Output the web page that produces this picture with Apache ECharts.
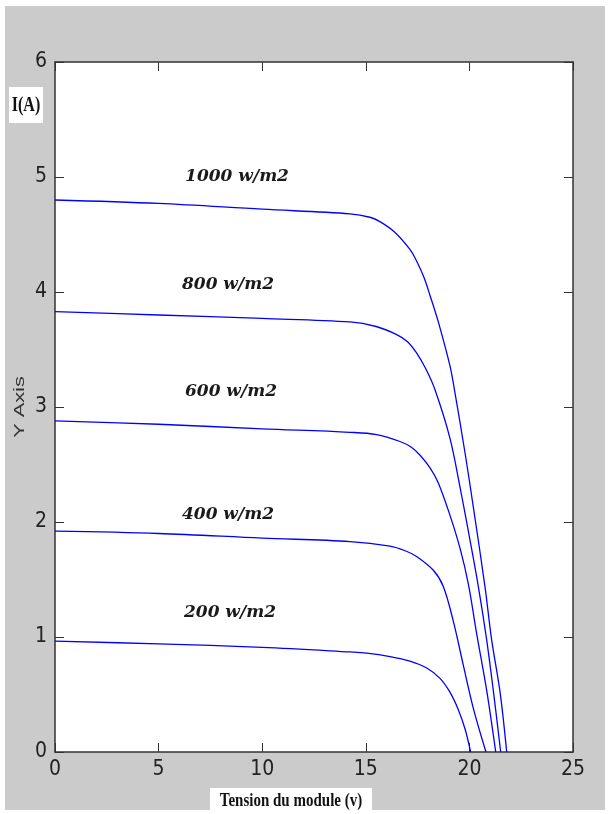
<!DOCTYPE html>
<html>
<head>
<meta charset="utf-8">
<script src="https://cdn.jsdelivr.net/npm/echarts@6/dist/echarts.min.js"></script>
<style>
  body { margin: 0; background: #fff; }
  #wrap { position: relative; width: 610px; height: 814px; background: #fff; }
  #paper { position: absolute; left: 5px; top: 6px; width: 600px; height: 804px; background: #cbcbcb; }
  #main { position: absolute; left: 0; top: 0; width: 610px; height: 814px; }
</style>
</head>
<body>
<div id="wrap"><div id="paper"></div><div id="main"></div></div>
<script>
// tension du module (V) et courant (A) pour chaque eclairement
var v1000 = [0, 5, 10, 14.24, 15.2, 15.7, 16.4, 17.13, 17.45, 17.8, 18.1, 18.5, 19.06, 19.25, 19.79, 20.19, 20.75, 21.07, 21.48, 21.8];
var i1000 = [4.80, 4.77, 4.72, 4.68, 4.65, 4.61, 4.52, 4.37, 4.27, 4.13, 3.97, 3.74, 3.36, 3.18, 2.60, 2.13, 1.44, 0.98, 0.52, 0];

var v800 = [0, 5, 10, 14.24, 15.5, 16.49, 17.0, 17.45, 17.9, 18.34, 19.06, 19.55, 20.0, 20.43, 20.83, 21.15, 21.51];
var i800 = [3.83, 3.80, 3.77, 3.74, 3.70, 3.63, 3.57, 3.47, 3.33, 3.15, 2.73, 2.30, 1.87, 1.44, 0.98, 0.54, 0];

var v600 = [0, 5, 10, 14.24, 15.52, 16.65, 17.2, 17.62, 18.1, 18.5, 19.06, 19.55, 19.95, 20.35, 20.83, 21.27];
var i600 = [2.88, 2.85, 2.81, 2.78, 2.76, 2.70, 2.65, 2.58, 2.47, 2.34, 2.06, 1.77, 1.46, 1.03, 0.54, 0];

var v400 = [0, 5, 10, 14.24, 16.17, 16.9, 17.45, 18.26, 18.74, 19.22, 19.7, 20.19, 20.8];
var i400 = [1.92, 1.90, 1.86, 1.83, 1.79, 1.75, 1.70, 1.58, 1.44, 1.14, 0.76, 0.38, 0];

var v200 = [0, 5, 10, 14.24, 15.04, 16.17, 17.13, 17.94, 18.58, 19.06, 19.46, 19.79, 20.06];
var i200 = [0.965, 0.94, 0.91, 0.87, 0.86, 0.83, 0.79, 0.73, 0.64, 0.52, 0.37, 0.20, 0];

var curveNames = ['1000 w/m2', '800 w/m2', '600 w/m2', '400 w/m2', '200 w/m2'];
var xTicks = [0, 5, 10, 15, 20, 25];
var yTicks = [0, 1, 2, 3, 4, 5, 6];

function pairs(v, i) {
  var out = [];
  for (var k = 0; k < v.length; k++) out.push([v[k], i[k]]);
  return out;
}
var curves = [pairs(v1000, i1000), pairs(v800, i800), pairs(v600, i600), pairs(v400, i400), pairs(v200, i200)];

var myChart = echarts.init(document.getElementById('main'));

var tickFont = "'Liberation Sans Narrow', 'DejaVu Sans Condensed', 'Liberation Sans', sans-serif";
function axisBase(pos, showLabel) {
  var isX = (pos === 'bottom' || pos === 'top');
  var ticks = isX ? xTicks : yTicks;
  return {
    type: 'value',
    position: pos,
    min: ticks[0],
    max: ticks[ticks.length - 1],
    interval: ticks[1] - ticks[0],
    axisLine: { show: true, onZero: false, lineStyle: { color: '#333', width: 1.5 } },
    axisTick: { show: true, inside: true, length: 9, lineStyle: { color: '#333', width: 1 } },
    splitLine: { show: false },
    axisLabel: {
      show: showLabel,
      color: '#222',
      fontSize: 21,
      fontFamily: tickFont,
      margin: (pos === 'bottom') ? 7 : 8
    }
  };
}

var labelPos = [[237, 177], [228, 285], [231, 392], [228, 515], [230, 613]];
var graphics = [];
curveNames.forEach(function (t, k) {
  graphics.push({
    type: 'text', x: labelPos[k][0], y: labelPos[k][1], z: 100,
    style: { text: t, fill: '#1a1a1a', align: 'center', verticalAlign: 'middle', font: "italic bold 17px 'DejaVu Serif', serif" }
  });
});
// I(A) en haut a gauche
graphics.push({ type: 'rect', shape: { x: 9, y: 87, width: 34, height: 36 }, style: { fill: '#fff' }, z: 90 });
graphics.push({
  type: 'text', x: 26, y: 105, scaleY: 1.35, z: 100,
  style: { text: 'I(A)', fill: '#111', align: 'center', verticalAlign: 'middle', font: "bold 16px 'Liberation Serif', serif" }
});
// Y Axis
graphics.push({
  type: 'text', x: 20, y: 407, rotation: Math.PI / 2, scaleX: 1.45, z: 100,
  style: { text: 'Y Axis', fill: '#333', align: 'center', verticalAlign: 'middle', font: "15px 'Liberation Sans', sans-serif" }
});
// titre axe x
graphics.push({ type: 'rect', shape: { x: 210, y: 788, width: 162, height: 24 }, style: { fill: '#fff' }, z: 90 });
graphics.push({
  type: 'text', x: 291, y: 801, scaleY: 1.3, z: 100,
  style: { text: 'Tension du module (v)', fill: '#111', align: 'center', verticalAlign: 'middle', font: "bold 15px 'Liberation Serif', serif" }
});

var option = {
  backgroundColor: 'transparent',
  animation: false,
  grid: { left: 55, top: 62, right: 37, bottom: 62, show: true, backgroundColor: '#fff', borderWidth: 0 },
  xAxis: [axisBase('bottom', true), axisBase('top', false)],
  yAxis: [axisBase('left', true), axisBase('right', false)],
  graphic: graphics,
  series: curves.map(function (d, k) {
    return {
      name: curveNames[k],
      type: 'line',
      data: d,
      showSymbol: false,
      smooth: 0.35,
      lineStyle: { color: '#0000ff', width: 1.3 },
      clip: true
    };
  })
};

myChart.setOption(option);
</script>
</body>
</html>
